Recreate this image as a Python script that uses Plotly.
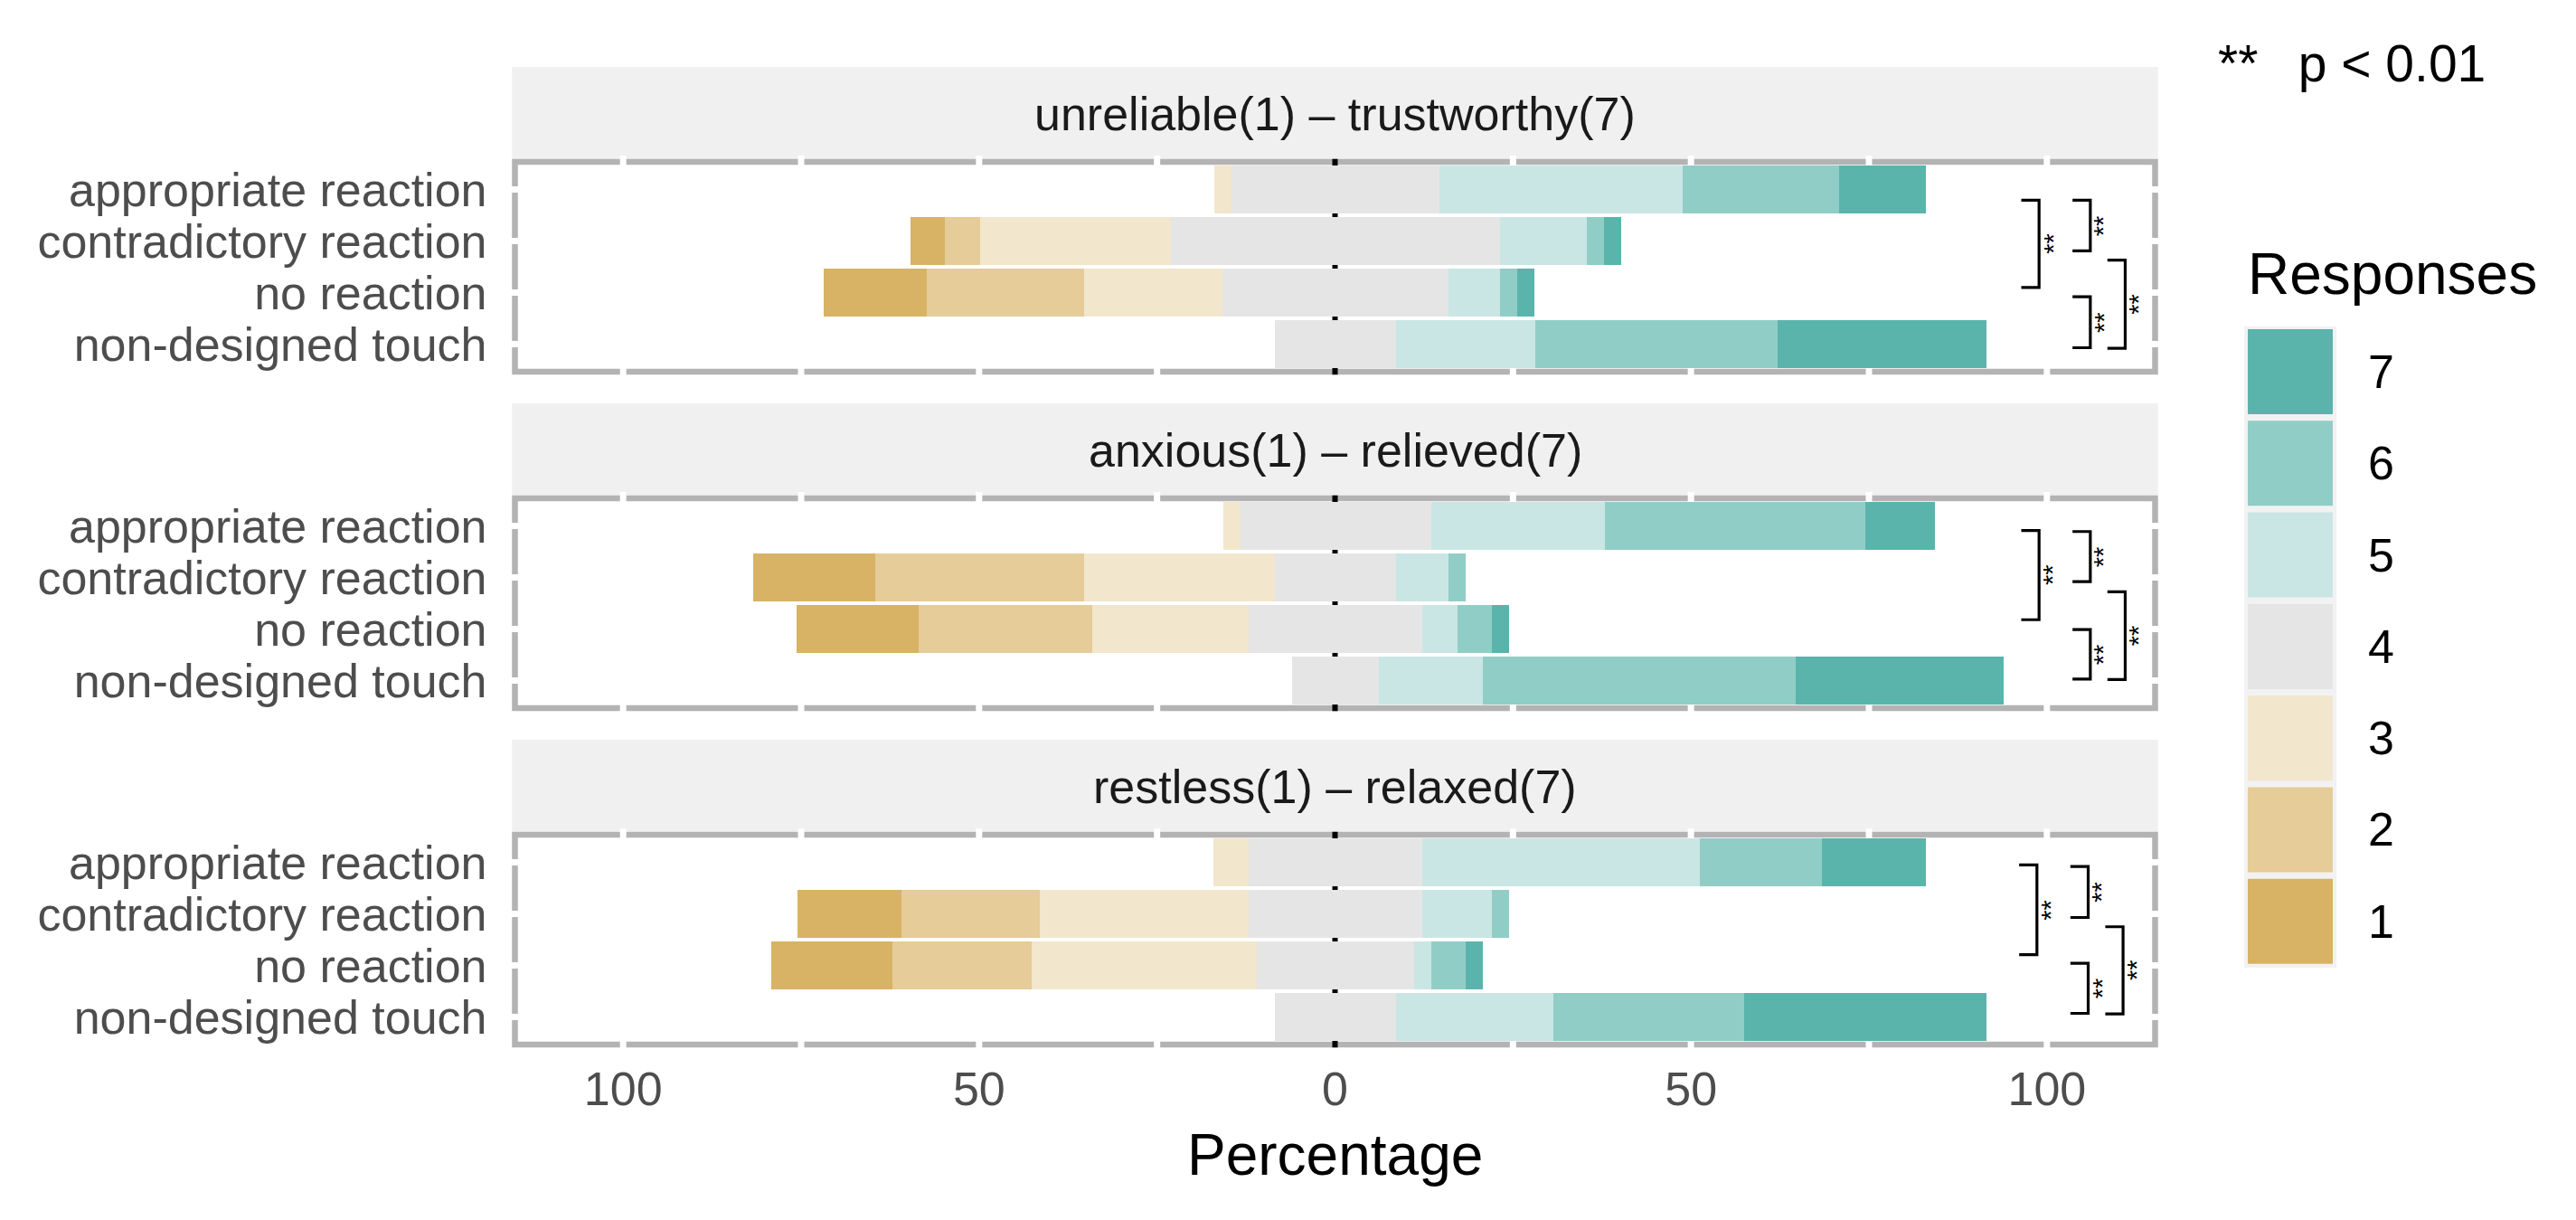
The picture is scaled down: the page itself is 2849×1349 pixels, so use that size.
import plotly.graph_objects as go

# ---------------- data ----------------
categories = ["appropriate reaction", "contradictory reaction", "no reaction", "non-designed touch"]
responses = ["1", "2", "3", "4", "5", "6", "7"]
colors = ["#D8B365", "#E5CC98", "#F2E6CC", "#E5E5E5", "#C9E6E4", "#90CDC6", "#5AB4AC"]
panel_titles = ["unreliable(1) \u2013 trustworthy(7)", "anxious(1) \u2013 relieved(7)", "restless(1) \u2013 relaxed(7)"]

# percentage of answers for responses 1..7
trust_appropriate = [0.0, 0.0, 2.4, 29.3, 34.1, 22.0, 12.2]
trust_contradictory = [4.9, 4.9, 26.8, 46.3, 12.2, 2.4, 2.4]
trust_no_reaction = [14.6, 22.0, 19.5, 31.7, 7.3, 2.4, 2.4]
trust_non_designed = [0.0, 0.0, 0.0, 17.1, 19.5, 34.1, 29.3]

relieved_appropriate = [0.0, 0.0, 2.4, 26.8, 24.4, 36.6, 9.8]
relieved_contradictory = [17.1, 29.3, 26.8, 17.1, 7.3, 2.4, 0.0]
relieved_no_reaction = [17.1, 24.4, 22.0, 24.4, 4.9, 4.9, 2.4]
relieved_non_designed = [0.0, 0.0, 0.0, 12.2, 14.6, 43.9, 29.3]

relaxed_appropriate = [0.0, 0.0, 4.9, 24.4, 39.0, 17.1, 14.6]
relaxed_contradictory = [14.6, 19.5, 29.3, 24.4, 9.8, 2.4, 0.0]
relaxed_no_reaction = [17.1, 19.5, 31.7, 22.0, 2.4, 4.9, 2.4]
relaxed_non_designed = [0.0, 0.0, 0.0, 17.1, 22.0, 26.8, 34.1]

panels = [
    [trust_appropriate, trust_contradictory, trust_no_reaction, trust_non_designed],
    [relieved_appropriate, relieved_contradictory, relieved_no_reaction, relieved_non_designed],
    [relaxed_appropriate, relaxed_contradictory, relaxed_no_reaction, relaxed_non_designed],
]

x_tick_vals = [-100, -50, 0, 50, 100]
x_tick_text = ["100", "50", "0", "50", "100"]
x_gap_vals = [-100, -75, -50, -25, 25, 50, 75, 100]

# significance brackets: (x of vertical line, y top, y bottom) in data units
brackets_p1 = [(98.9, 2.79, 1.10), (106.1, 2.79, 1.81), (106.1, 0.92, -0.07), (111.0, 1.63, -0.08)]
brackets_p2 = [(98.9, 2.91, 1.18), (106.1, 2.89, 1.92), (106.1, 0.99, 0.03), (111.0, 1.72, 0.02)]
brackets_p3 = [(98.6, 2.95, 1.21), (105.8, 2.92, 1.93), (105.8, 1.04, 0.07), (110.7, 1.75, 0.06)]
brackets = [brackets_p1, brackets_p2, brackets_p3]
sig_label = "**"

# ---------------- layout constants ----------------
W, H = 2849, 1349
FONT = "Liberation Sans"
XMIN, XMAX = -115.2, 115.2
YMIN, YMAX = -0.535, 3.535
px_left, px_right = 569.5, 2383.5
panel_tops = [179, 551, 923]
panel_h = 232
x_dom = [px_left / W, px_right / W]

ypos = [len(categories) - 1 - i for i in range(len(categories))]

fig = go.Figure()
shapes = []
annotations = []

stack_order = [3, 2, 1, 0, 3, 4, 5, 6]  # neutral split in two halves
for p, rows in enumerate(panels):
    xa = "x" if p == 0 else f"x{p+1}"
    ya = "y" if p == 0 else f"y{p+1}"
    for k, r in enumerate(stack_order):
        vals = []
        for row in rows:
            v = row[r]
            if r == 3:
                v = v / 2.0
                v = -v if k == 0 else v
            elif r < 3:
                v = -v
            vals.append(v)
        fig.add_trace(go.Bar(
            x=vals, y=ypos, orientation="h", width=0.925,
            marker=dict(color=colors[r], line=dict(width=0)),
            xaxis=xa, yaxis=ya, showlegend=False,
            name=responses[r], hoverinfo="x+name",
        ))

layout_axes = {}
for p in range(3):
    top = panel_tops[p]
    y_dom = [1 - (top + panel_h) / H, 1 - top / H]
    xname = "xaxis" if p == 0 else f"xaxis{p+1}"
    yname = "yaxis" if p == 0 else f"yaxis{p+1}"
    xa = "x" if p == 0 else f"x{p+1}"
    ya = "y" if p == 0 else f"y{p+1}"
    layout_axes[xname] = dict(
        domain=x_dom, range=[XMIN, XMAX], anchor=ya,
        showgrid=False, zeroline=False, showline=False, ticks="",
        tickvals=x_tick_vals, ticktext=x_tick_text,
        showticklabels=(p == 2), ticklabelstandoff=14,
        tickfont=dict(family=FONT, size=52, color="#4D4D4D"),
    )
    layout_axes[yname] = dict(
        domain=y_dom, range=[YMIN, YMAX], anchor=xa,
        showgrid=False, zeroline=False, showline=False, ticks="",
        tickvals=ypos, ticktext=categories, ticklabelstandoff=30,
        tickfont=dict(family=FONT, size=52, color="#4D4D4D"),
    )
    xd = f"{xa} domain"
    yd = f"{ya} domain"
    # strip
    shapes.append(dict(type="rect", xref="paper", yref="paper",
                       x0=(px_left - 3.25) / W, x1=(px_right + 3.25) / W,
                       y0=1 - (top - 3.25) / H, y1=1 - (top - 105) / H,
                       fillcolor="#F0F0F0", line=dict(width=0), layer="below"))
    annotations.append(dict(text=panel_titles[p], xref="paper", yref="paper",
                            x=(px_left + px_right) / 2 / W, y=1 - (top - 53) / H,
                            xanchor="center", yanchor="middle", showarrow=False,
                            font=dict(family=FONT, size=52, color="#1A1A1A")))
    # panel border
    shapes.append(dict(type="rect", xref=xd, yref=yd, x0=0, x1=1, y0=0, y1=1,
                       line=dict(color="#B3B3B3", width=6.5), fillcolor="rgba(0,0,0,0)",
                       layer="below"))
    # white gaps at grid positions
    for t in x_gap_vals:
        f = (t - XMIN) / (XMAX - XMIN)
        for (a, b) in [(-0.03, 0.03), (0.97, 1.03)]:
            shapes.append(dict(type="line", xref=xd, yref=yd, x0=f, x1=f, y0=a, y1=b,
                               line=dict(color="white", width=7), layer="below"))
    for yv in ypos:
        f = (yv - YMIN) / (YMAX - YMIN)
        for (a, b) in [(-0.005, 0.005), (0.995, 1.005)]:
            shapes.append(dict(type="line", xref=xd, yref=yd, x0=a, x1=b, y0=f, y1=f,
                               line=dict(color="white", width=7), layer="below"))
    # zero line
    f0 = (0 - XMIN) / (XMAX - XMIN)
    shapes.append(dict(type="line", xref=xd, yref=yd, x0=f0, x1=f0, y0=-0.014, y1=1.014,
                       line=dict(color="black", width=6), layer="below"))
    # significance brackets
    for (bx, y0, y1) in brackets[p]:
        arm = bx - 2.5
        shapes.append(dict(type="path", xref=xa, yref=ya,
                           path=f"M {arm},{y0} L {bx},{y0} L {bx},{y1} L {arm},{y1}",
                           line=dict(color="black", width=3.2), layer="above"))
        annotations.append(dict(text=sig_label, xref=xa, yref=ya, x=bx + 1.9,
                                y=(y0 + y1) / 2, textangle=-90, showarrow=False,
                                xanchor="center", yanchor="middle",
                                font=dict(family=FONT, size=29, color="black")))

# x axis title
annotations.append(dict(text="Percentage", xref="paper", yref="paper",
                        x=(px_left + px_right) / 2 / W, y=1 - 1277 / H,
                        xanchor="center", yanchor="middle", showarrow=False,
                        font=dict(family=FONT, size=64, color="black")))

# significance note
annotations.append(dict(text="**\u2002 p < 0.01", xref="paper", yref="paper",
                        x=2451 / W, y=1 - 70 / H, xanchor="left", yanchor="middle",
                        showarrow=False, font=dict(family=FONT, size=57, color="black")))

# legend (drawn manually, ggplot style)
annotations.append(dict(text="Responses", xref="paper", yref="paper",
                        x=2484 / W, y=1 - 303 / H, xanchor="left", yanchor="middle",
                        showarrow=False, font=dict(family=FONT, size=64, color="black")))
shapes.append(dict(type="rect", xref="paper", yref="paper",
                   x0=2482 / W, x1=2584 / W, y0=1 - 361 / H, y1=1 - 1070 / H,
                   fillcolor="#F2F2F2", line=dict(width=0)))
for k, r in enumerate(reversed(range(len(responses)))):
    ktop = 364 + k * 101.3
    shapes.append(dict(type="rect", xref="paper", yref="paper",
                       x0=2486 / W, x1=2580 / W, y0=1 - ktop / H, y1=1 - (ktop + 94) / H,
                       fillcolor=colors[r], line=dict(width=0)))
    annotations.append(dict(text=responses[r], xref="paper", yref="paper",
                            x=2617 / W, y=1 - (ktop + 47) / H, xanchor="left", yanchor="middle",
                            showarrow=False, font=dict(family=FONT, size=52, color="black")))

fig.update_layout(
    width=W, height=H, autosize=False,
    margin=dict(l=0, r=0, t=0, b=0),
    paper_bgcolor="white", plot_bgcolor="white",
    barmode="relative", bargap=0,
    font=dict(family=FONT, size=52, color="#4D4D4D"),
    shapes=shapes, annotations=annotations,
    showlegend=False,
    **layout_axes,
)

fig.write_html("out.html", config={"displayModeBar": False},
               post_script="document.body.style.margin='0px';document.body.style.padding='0px';")
